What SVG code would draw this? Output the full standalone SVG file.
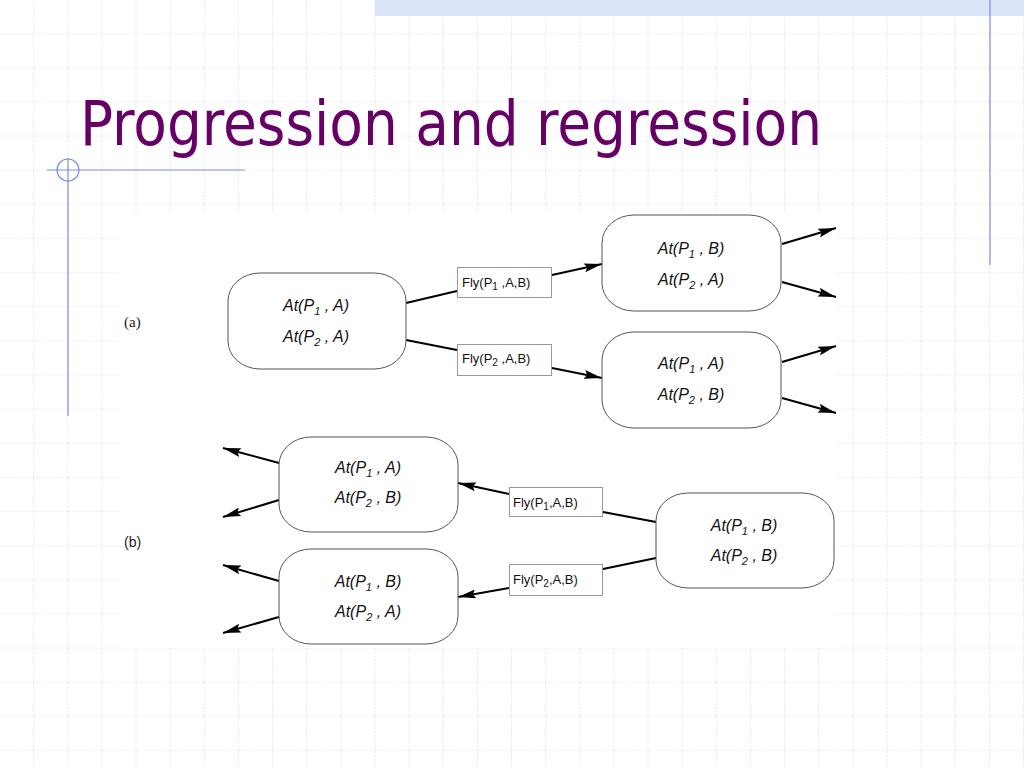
<svg xmlns="http://www.w3.org/2000/svg" width="1024" height="768" viewBox="0 0 1024 768">
<style>
.node{fill:#fff;stroke:#555;stroke-width:1}
.lbl{fill:#fff;stroke:#9a9a9a;stroke-width:1}
.at{font-family:"Liberation Sans",Arial,sans-serif;font-style:italic;font-size:16px;fill:#111;text-anchor:middle}
.fly{font-family:"Liberation Sans",Arial,sans-serif;font-size:13px;fill:#111}
.edge{stroke:#000;stroke-width:2;fill:none}
.arr{marker-end:url(#ah)}
.deco{stroke:#7f8fe0;stroke-width:1.2;fill:none}
</style>
<defs>
<pattern id="grid" x="0" y="0" width="34.1333" height="34.1333" patternUnits="userSpaceOnUse">
<path d="M34.1333 0V34.1333M0 34.1333H34.1333" stroke="#d3d8f0" stroke-width="1.2" stroke-dasharray="2 1.5" fill="none"/>
</pattern>
<marker id="ah" viewBox="0 0 18 9" refX="18" refY="4.5" markerWidth="18" markerHeight="9" markerUnits="userSpaceOnUse" orient="auto">
<path d="M0 0L18 4.5L0 9L3 4.5Z" fill="#000"/>
</marker>
</defs>
<rect width="1024" height="768" fill="#fff"/>
<rect width="1024" height="768" fill="url(#grid)"/>
<rect x="375" y="0" width="649" height="16" fill="#dce4f8"/>
<line class="deco" x1="990" y1="0" x2="990" y2="265"/>
<line class="deco" x1="47" y1="170" x2="245" y2="170"/>
<line class="deco" x1="68" y1="158" x2="68" y2="416"/>
<circle class="deco" cx="68" cy="170" r="11"/>
<text x="80" y="145" font-family="'DejaVu Sans Condensed','DejaVu Sans',Tahoma,sans-serif" font-size="63" fill="#660066" textLength="742" lengthAdjust="spacingAndGlyphs">Progression and regression</text>
<rect x="119" y="212" width="718" height="436" fill="#fff"/>
<text x="124" y="327" font-family="'Liberation Serif','Times New Roman',serif" font-size="15" fill="#222">(a)</text>
<text x="124" y="547" font-family="'Liberation Sans',Arial,sans-serif" font-size="14" fill="#222">(b)</text>
<g id="connectors">
<line class="edge" x1="406" y1="303" x2="457" y2="291"/>
<line class="edge arr" x1="552" y1="275" x2="602" y2="264"/>
<line class="edge" x1="406" y1="340" x2="457" y2="350"/>
<line class="edge arr" x1="552" y1="368" x2="602" y2="378"/>
<line class="edge arr" x1="782" y1="244" x2="836" y2="228"/>
<line class="edge arr" x1="782" y1="282" x2="836" y2="297"/>
<line class="edge arr" x1="782" y1="362" x2="836" y2="346"/>
<line class="edge arr" x1="782" y1="398" x2="836" y2="413"/>
<line class="edge arr" x1="279" y1="463" x2="223" y2="448"/>
<line class="edge arr" x1="279" y1="500" x2="223" y2="517"/>
<line class="edge arr" x1="279" y1="581" x2="223" y2="565"/>
<line class="edge arr" x1="279" y1="617" x2="223" y2="633"/>
<line class="edge" x1="656" y1="522" x2="603" y2="512"/>
<line class="edge arr" x1="509" y1="494" x2="458" y2="483"/>
<line class="edge" x1="656" y1="558" x2="603" y2="569"/>
<line class="edge arr" x1="509" y1="588" x2="458" y2="597"/>
</g>
<g id="n1">
<path class="node" d="M260 273H374A32 28 0 0 1 406 301V341A32 28 0 0 1 374 369H260A32 28 0 0 1 228 341V301A32 28 0 0 1 260 273Z"/>
<text class="at" x="316" y="311">At(P<tspan dy="4" font-size="11">1</tspan><tspan dy="-4"> , A)</tspan></text>
<text class="at" x="316" y="342">At(P<tspan dy="4" font-size="11">2</tspan><tspan dy="-4"> , A)</tspan></text>
</g>
<g id="n2">
<path class="node" d="M634 215H749A32 28 0 0 1 781 243V283A32 28 0 0 1 749 311H634A32 28 0 0 1 602 283V243A32 28 0 0 1 634 215Z"/>
<text class="at" x="691" y="254">At(P<tspan dy="4" font-size="11">1</tspan><tspan dy="-4"> , B)</tspan></text>
<text class="at" x="691" y="285">At(P<tspan dy="4" font-size="11">2</tspan><tspan dy="-4"> , A)</tspan></text>
</g>
<g id="n3">
<path class="node" d="M634 332H749A32 28 0 0 1 781 360V400A32 28 0 0 1 749 428H634A32 28 0 0 1 602 400V360A32 28 0 0 1 634 332Z"/>
<text class="at" x="691" y="369">At(P<tspan dy="4" font-size="11">1</tspan><tspan dy="-4"> , A)</tspan></text>
<text class="at" x="691" y="400">At(P<tspan dy="4" font-size="11">2</tspan><tspan dy="-4"> , B)</tspan></text>
</g>
<g id="l1">
<rect class="lbl" x="457.5" y="267.5" width="94" height="30"/>
<text class="fly" x="462" y="287">Fly(P<tspan dy="3" font-size="10">1</tspan><tspan dy="-3"> ,A,B)</tspan></text>
</g>
<g id="l2">
<rect class="lbl" x="457.5" y="344.5" width="94" height="31"/>
<text class="fly" x="462" y="363">Fly(P<tspan dy="3" font-size="10">2</tspan><tspan dy="-3"> ,A,B)</tspan></text>
</g>
<g id="n4">
<path class="node" d="M311 437H426A32 28 0 0 1 458 465V504A32 28 0 0 1 426 532H311A32 28 0 0 1 279 504V465A32 28 0 0 1 311 437Z"/>
<text class="at" x="368" y="473">At(P<tspan dy="4" font-size="11">1</tspan><tspan dy="-4"> , A)</tspan></text>
<text class="at" x="368" y="503">At(P<tspan dy="4" font-size="11">2</tspan><tspan dy="-4"> , B)</tspan></text>
</g>
<g id="n5">
<path class="node" d="M311 549H426A32 28 0 0 1 458 577V616A32 28 0 0 1 426 644H311A32 28 0 0 1 279 616V577A32 28 0 0 1 311 549Z"/>
<text class="at" x="368" y="587">At(P<tspan dy="4" font-size="11">1</tspan><tspan dy="-4"> , B)</tspan></text>
<text class="at" x="368" y="617">At(P<tspan dy="4" font-size="11">2</tspan><tspan dy="-4"> , A)</tspan></text>
</g>
<g id="n6">
<path class="node" d="M688 493H802A32 28 0 0 1 834 521V560A32 28 0 0 1 802 588H688A32 28 0 0 1 656 560V521A32 28 0 0 1 688 493Z"/>
<text class="at" x="744" y="531">At(P<tspan dy="4" font-size="11">1</tspan><tspan dy="-4"> , B)</tspan></text>
<text class="at" x="744" y="561">At(P<tspan dy="4" font-size="11">2</tspan><tspan dy="-4"> , B)</tspan></text>
</g>
<g id="l3">
<rect class="lbl" x="509.5" y="487.5" width="93" height="29"/>
<text class="fly" x="513" y="507">Fly(P<tspan dy="3" font-size="10">1</tspan><tspan dy="-3">,A,B)</tspan></text>
</g>
<g id="l4">
<rect class="lbl" x="509.5" y="564.5" width="93" height="31"/>
<text class="fly" x="513" y="584">Fly(P<tspan dy="3" font-size="10">2</tspan><tspan dy="-3">,A,B)</tspan></text>
</g>
</svg>
